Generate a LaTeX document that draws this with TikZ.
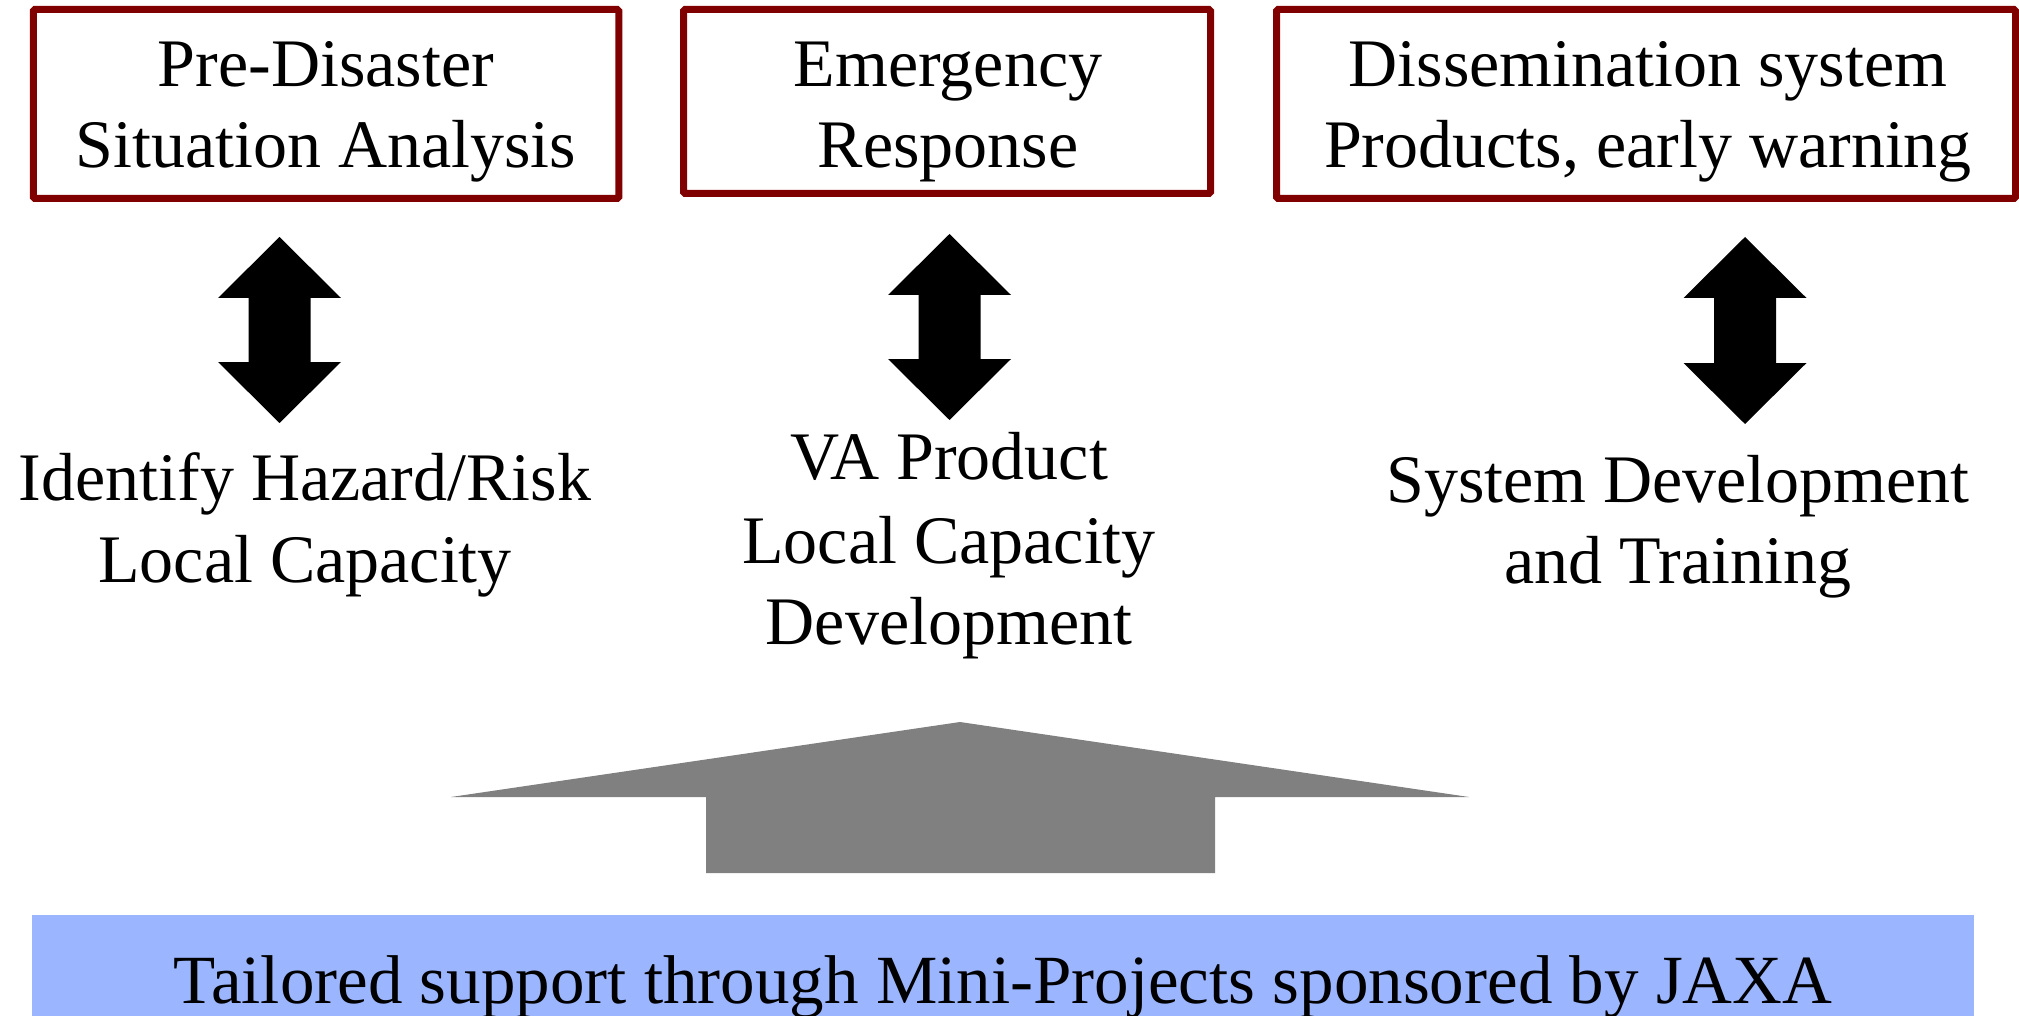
\documentclass[tikz,border=0pt]{standalone}
\usepackage{fontspec}
\setmainfont{Liberation Serif}
\definecolor{boxred}{RGB}{128,0,0}
\definecolor{bargray}{RGB}{128,128,128}
\definecolor{barblue}{RGB}{155,181,255}
\tikzset{
  redbox/.style={draw=boxred, line width=7pt, rounded corners=1.5pt, inner sep=0pt},
  txt/.style={anchor=base, inner sep=0pt, font=\fontsize{68}{81}\selectfont},
  bartxt/.style={anchor=base, inner sep=0pt, font=\fontsize{69}{83}\selectfont},
  dbl/.style={fill=black, draw=none},
}
\newcommand{\dblarrowshape}[3]{% cx, top, bottom
  \fill[dbl] (#1,#2) -- ++(61.5,61) -- ++(-30.5,0) -- (#1+31,#3-61) -- ++(30.5,0)
    -- (#1,#3) -- (#1-61.5,#3-61) -- ++(30.5,0) -- (#1-31,#2+61) -- ++(-30.5,0) -- cycle;
}
\begin{document}
\begin{tikzpicture}[x=1pt,y=-1pt]
\useasboundingbox (0,0) rectangle (2019,1016);
% top boxes
\node[redbox, minimum width=585.5pt, minimum height=189pt] (b1) at (326,104) {};
\node[redbox, minimum width=527pt, minimum height=184pt] (b2) at (947,101.5) {};
\node[redbox, minimum width=739pt, minimum height=189pt] (b3) at (1646,104) {};
\node[txt] (b1a) at (326,87) {Pre-Disaster};
\node[txt] (b1b) at (326,168) {Situation Analysis};
\node[txt] (b2a) at (948,87) {Emergency};
\node[txt] (b2b) at (948,168) {Response};
\node[txt] (b3a) at (1648,87) {Dissemination system};
\node[txt] (b3b) at (1648,168) {Products, early warning};
% double arrows
\dblarrowshape{279.5}{237}{423}
\dblarrowshape{949.5}{234}{420}
\dblarrowshape{1745}{237}{424}
% middle texts
\node[txt] (m1a) at (305,500) {Identify Hazard/Risk};
\node[txt] (m1b) at (305,582) {Local Capacity};
\node[txt] (m2a) at (949,479) {VA Product};
\node[txt] (m2b) at (949,563) {Local Capacity};
\node[txt] (m2c) at (949,644) {Development};
\node[txt] (m3a) at (1678,502) {System Development};
\node[txt] (m3b) at (1678,583) {and Training};
% gray arrow
\fill[bargray] (960,722) -- (1469,797) -- (1215,797) -- (1215,873) -- (706,873) -- (706,797) -- (451,797) -- cycle;
% blue bar
\fill[barblue] (32,915) rectangle (1974,1016);
\node[bartxt] (bar) at (1003,1003) {Tailored support through Mini-Projects sponsored by JAXA};
\end{tikzpicture}
\end{document}
